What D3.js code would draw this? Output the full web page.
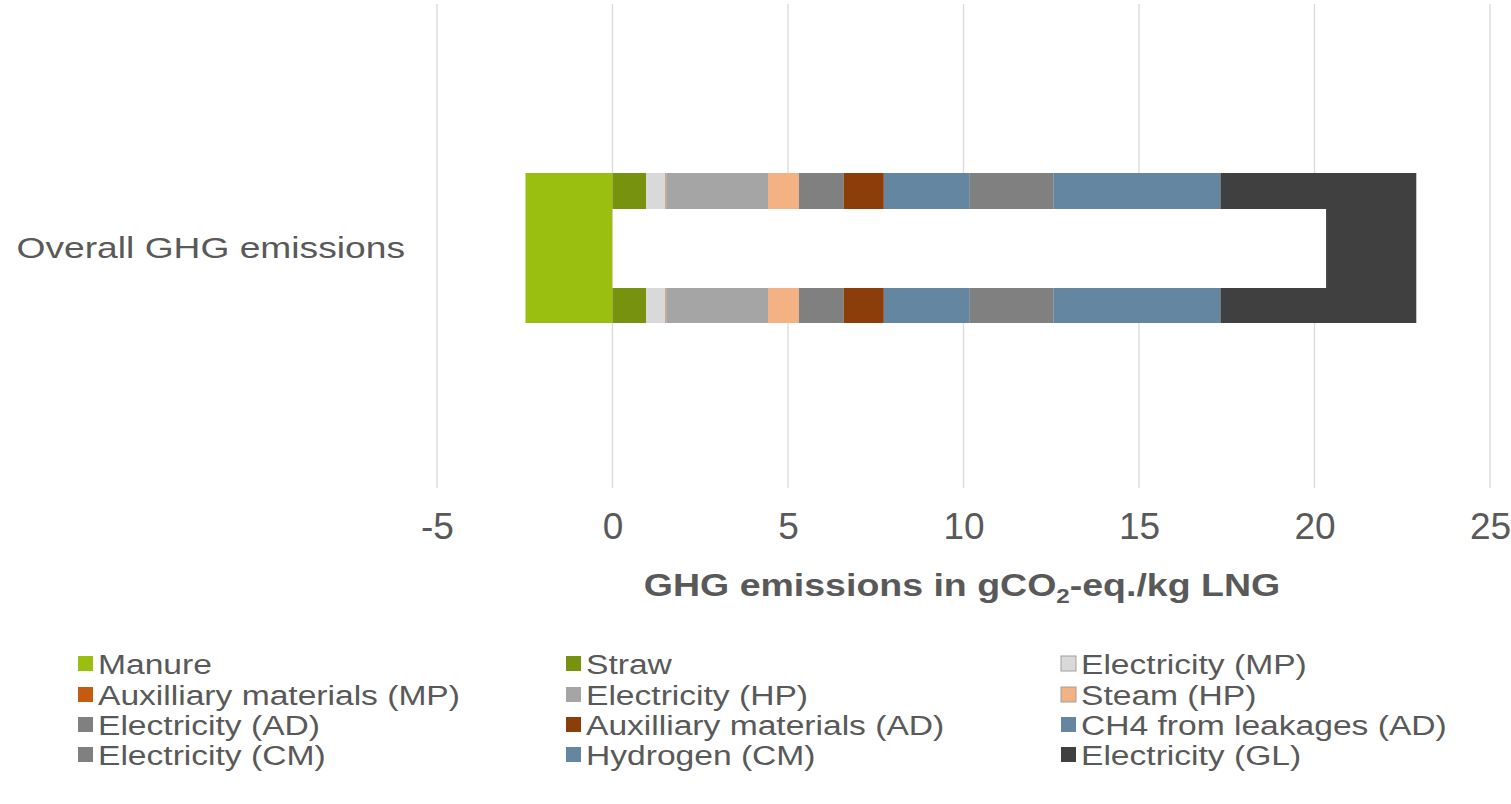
<!DOCTYPE html>
<html>
<head>
<meta charset="utf-8">
<script src="https://cdn.jsdelivr.net/npm/d3@7"></script>
<style>
  html, body { margin: 0; padding: 0; background: #fff; }
  svg { display: block; font-family: "Liberation Sans", Arial, sans-serif; }
</style>
</head>
<body>
<svg id="chart" width="1511" height="804"></svg>
<script>
// ---- data ----
const categories = ["Overall GHG emissions"];
const seriesNames = [
  "Manure", "Straw", "Electricity (MP)",
  "Auxilliary materials (MP)", "Electricity (HP)", "Steam (HP)",
  "Electricity (AD)", "Auxilliary materials (AD)", "CH4 from leakages (AD)",
  "Electricity (CM)", "Hydrogen (CM)", "Electricity (GL)"
];
const seriesValues = [-2.48, 0.96, 0.55, 0.02, 2.90, 0.88, 1.28, 1.14, 2.45, 2.39, 4.75, 5.58];
const seriesColors = ["#9bbf10", "#76920f", "#d9d9d9", "#c55a11", "#a5a5a5", "#f4b183",
                      "#808080", "#8b3d0a", "#6586a0", "#808080", "#6586a0", "#404040"];
const netTotal = [20.33];
const xTicks = [-5, 0, 5, 10, 15, 20, 25];

// ---- layout ----
const svg = d3.select("#chart");
const x = d3.scaleLinear().domain([-5, 25]).range([437, 1490]);
const barTop = 173, barH = 150;
const textColor = "#595959";
const stretch = 1.21;

// gridlines
svg.append("g").selectAll("line").data(xTicks).join("line")
  .attr("x1", d => x(d)).attr("x2", d => x(d))
  .attr("y1", 4).attr("y2", 488)
  .attr("stroke", "#d9d9d9").attr("stroke-width", 1.3);

// stacked segments
let pos = 0, neg = 0;
const segs = seriesValues.map((v, i) => {
  let x0, x1;
  if (v >= 0) { x0 = pos; x1 = pos + v; pos = x1; }
  else { x1 = neg; x0 = neg + v; neg = x0; }
  return { name: seriesNames[i], x0, x1, color: seriesColors[i] };
});

svg.append("g").selectAll("rect").data(segs).join("rect")
  .attr("x", d => x(d.x0)).attr("width", d => x(d.x1) - x(d.x0))
  .attr("y", barTop).attr("height", barH)
  .attr("fill", d => d.color);

// net total overlay (white)
svg.append("g").selectAll("rect").data(netTotal).join("rect")
  .attr("x", x(0)).attr("width", d => x(d) - x(0))
  .attr("y", 209).attr("height", 79)
  .attr("fill", "#ffffff");

// category label
svg.append("text")
  .attr("transform", "translate(405,258) scale(1.24,1)")
  .attr("text-anchor", "end")
  .attr("font-size", 30).attr("fill", textColor)
  .text(categories[0]);

// x axis tick labels
const axis = d3.axisBottom(x).tickValues(xTicks).tickSize(0).tickPadding(0).tickFormat(d3.format("d"));
const ax = svg.append("g").attr("transform", "translate(0,513)").call(axis);
ax.select(".domain").remove();
ax.selectAll("text").attr("font-size", 37).attr("fill", textColor)
  .attr("font-family", "'Liberation Sans', Arial, sans-serif").attr("dy", "0.71em")
  .text(d => d < 0 ? "-" + Math.abs(d) : d);

// axis title
const t = svg.append("text").attr("transform", `translate(962,596) scale(${stretch},1)`)
  .attr("text-anchor", "middle").attr("font-size", 31).attr("font-weight", "bold")
  .attr("fill", textColor);
t.append("tspan").text("GHG emissions in gCO");
t.append("tspan").attr("font-size", 20).attr("dy", 7).text("2");
t.append("tspan").attr("dy", -7).text("-eq./kg LNG");

// legend
const colX = [78, 566, 1061];
const rowY = [664, 695, 725, 755];
const lg = svg.append("g").selectAll("g").data(seriesNames).join("g")
  .attr("transform", (d, i) => `translate(${colX[i % 3]},${rowY[Math.floor(i / 3)]})`);
lg.append("rect").attr("x", 0).attr("y", -8).attr("width", 15).attr("height", 15)
  .attr("fill", (d, i) => seriesColors[i])
  .attr("stroke", (d, i) => (i === 2 || i === 5) ? "#a0a0a0" : "none").attr("stroke-width", 1);
lg.append("text").attr("transform", `translate(20,0) scale(1.2,1)`).attr("dy", "0.36em")
  .attr("font-size", 28).attr("fill", textColor).text(d => d);
</script>
</body>
</html>
